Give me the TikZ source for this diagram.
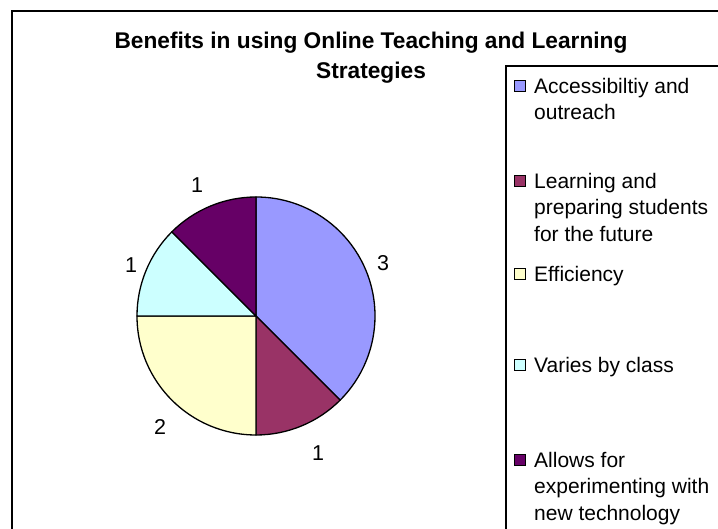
\documentclass[tikz,border=0pt]{standalone}
\usepackage{fontspec}
\setmainfont{Liberation Sans}
\usepackage{tikz}

\definecolor{accblue}{HTML}{9999FF}
\definecolor{learnred}{HTML}{993366}
\definecolor{effyellow}{HTML}{FFFFCC}
\definecolor{classcyan}{HTML}{CCFFFF}
\definecolor{techpurple}{HTML}{660066}

\begin{document}
\begin{tikzpicture}[x=1pt,y=1pt,
				every node/.style={inner sep=0pt},
				keybox/.style={draw,line width=1.2pt,minimum size=11pt},
				keytext/.style={anchor=north west,align=left,font=\fontsize{21}{26.5}\selectfont},
				value/.style={font=\fontsize{21.5}{26}\selectfont},
				slice/.style={draw,line width=1.3pt,line join=round}]
	\useasboundingbox (0,0) rectangle (718,529);
	\clip (0,0) rectangle (718,529);
	% chart frame and title
	\draw[line width=1.8pt] (12,-10) rectangle (740,518);
	\node[align=center,font=\bfseries\fontsize{22.7}{30}\selectfont] (title) at (371,471)
		{Benefits in using Online Teaching and Learning\\Strategies};
	% legend
	\draw[line width=1.5pt] (506,-10) rectangle (740,463);
	\foreach \y/\c/\t [count=\i] in {443/accblue/{Accessibiltiy and\\outreach},
			348/learnred/{Learning and\\preparing students\\for the future},
			255/effyellow/{Efficiency},
			164/classcyan/{Varies by class},
			69/techpurple/{Allows for\\experimenting with\\new technology}}
	{
		\node[keybox,fill=\c] (key\i) at (520,\y) {};
		\node[keytext] (entry\i) at (534,\y+8) {\t};
	}
	% pie
	\coordinate (ctr) at (256,213);
	\foreach \a/\b/\c/\v/\x/\y [count=\i] in {90/-45/accblue/3/383/266,
			-45/-90/learnred/1/318/76,
			-90/-180/effyellow/2/160/102,
			180/135/classcyan/1/131/264,
			135/90/techpurple/1/197/344}
	{
		\filldraw[slice,fill=\c] (ctr) -- ++(\a:119) arc (\a:\b:119) -- cycle;
		\node[value] (val\i) at (\x,\y) {\v};
	}
\end{tikzpicture}
\end{document}
